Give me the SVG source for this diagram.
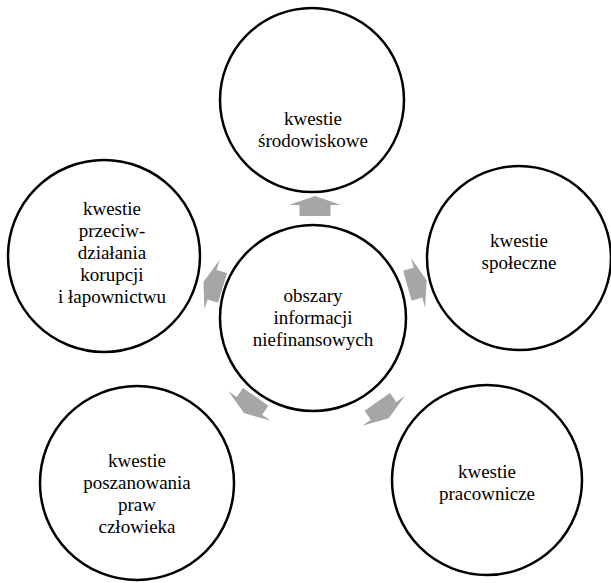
<svg xmlns="http://www.w3.org/2000/svg" width="611" height="583" viewBox="0 0 611 583">
<defs>
<style>
.c{fill:#fff;stroke:#000;stroke-width:2.5}
.t{font-family:"Liberation Serif","Times New Roman",serif;font-size:19px;fill:#000;text-anchor:middle}
.a{fill:#a6a6a6;stroke:none}
</style>
<path id="arr" d="M-10,-15.5 L1,-15.5 L1,-26 L10,0 L1,26 L1,15.5 L-10,15.5 Z"/>
</defs>
<rect width="611" height="583" fill="#fff"/>
<g id="connectors">
<use href="#arr" class="a" transform="translate(315,206) rotate(-90)"/>
<use href="#arr" class="a" transform="translate(417,283) rotate(-16)"/>
<use href="#arr" class="a" transform="translate(383,410) rotate(55)"/>
<use href="#arr" class="a" transform="translate(250,405) rotate(125)"/>
<use href="#arr" class="a" transform="translate(213,285) rotate(197)"/>
</g>
<g id="center">
<circle class="c" cx="313" cy="318" r="93"/>
<text class="t" x="313" y="302">obszary</text>
<text class="t" x="313" y="324">informacji</text>
<text class="t" x="313" y="346">niefinansowych</text>
</g>
<g id="top">
<circle class="c" cx="312" cy="100" r="92"/>
<text class="t" x="313" y="125">kwestie</text>
<text class="t" x="313" y="147">środowiskowe</text>
</g>
<g id="right">
<circle class="c" cx="519" cy="258" r="92"/>
<text class="t" x="519" y="247">kwestie</text>
<text class="t" x="519" y="269">społeczne</text>
</g>
<g id="bottomright">
<circle class="c" cx="487" cy="480" r="95"/>
<text class="t" x="487" y="478">kwestie</text>
<text class="t" x="487" y="500">pracownicze</text>
</g>
<g id="bottomleft">
<circle class="c" cx="137" cy="483" r="97"/>
<text class="t" x="137" y="467">kwestie</text>
<text class="t" x="137" y="489">poszanowania</text>
<text class="t" x="137" y="511">praw</text>
<text class="t" x="137" y="533">człowieka</text>
</g>
<g id="left">
<circle class="c" cx="104" cy="256" r="96"/>
<text class="t" x="112" y="215">kwestie</text>
<text class="t" x="112" y="237">przeciw-</text>
<text class="t" x="112" y="259">działania</text>
<text class="t" x="112" y="281">korupcji</text>
<text class="t" x="112" y="303">i łapownictwu</text>
</g>
</svg>
